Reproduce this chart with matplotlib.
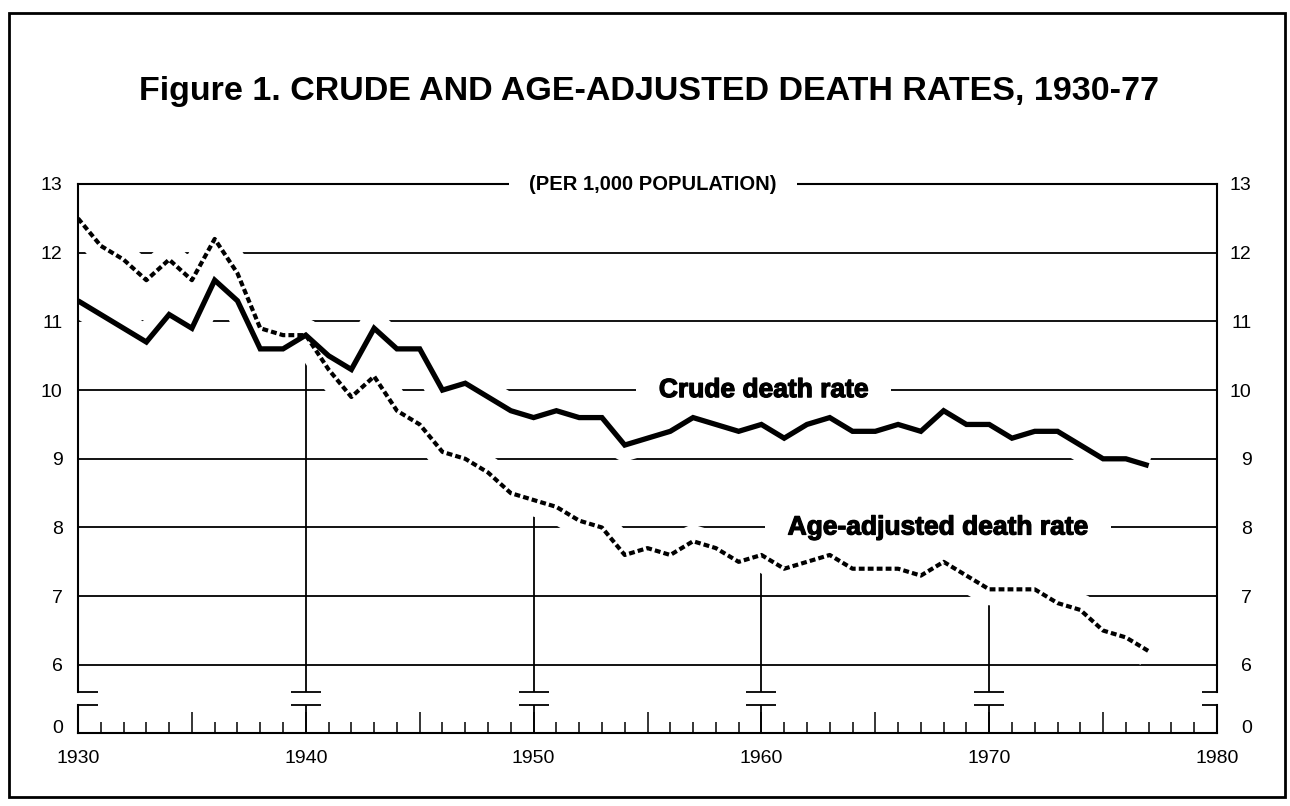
import matplotlib.pyplot as plt
import matplotlib.patheffects as pe
from matplotlib.patches import Rectangle
from matplotlib.ticker import FixedLocator, FuncFormatter

plt.rcParams['font.family'] = ['Liberation Sans', 'DejaVu Sans']

# Data: deaths per 1,000 population, 1930-77
years = list(range(1930, 1978))
crude_rate = [11.3, 11.1, 10.9, 10.7, 11.1, 10.9, 11.6, 11.3, 10.6, 10.6,
              10.8, 10.5, 10.3, 10.9, 10.6, 10.6, 10.0, 10.1, 9.9, 9.7,
              9.6, 9.7, 9.6, 9.6, 9.2, 9.3, 9.4, 9.6, 9.5, 9.4,
              9.5, 9.3, 9.5, 9.6, 9.4, 9.4, 9.5, 9.4, 9.7, 9.5,
              9.5, 9.3, 9.4, 9.4, 9.2, 9.0, 9.0, 8.9]
age_adjusted_rate = [12.5, 12.1, 11.9, 11.6, 11.9, 11.6, 12.2, 11.7, 10.9, 10.8,
                     10.8, 10.3, 9.9, 10.2, 9.7, 9.5, 9.1, 9.0, 8.8, 8.5,
                     8.4, 8.3, 8.1, 8.0, 7.6, 7.7, 7.6, 7.8, 7.7, 7.5,
                     7.6, 7.4, 7.5, 7.6, 7.4, 7.4, 7.4, 7.3, 7.5, 7.3,
                     7.1, 7.1, 7.1, 6.9, 6.8, 6.5, 6.4, 6.2]
y_ticks = [6, 7, 8, 9, 10, 11, 12, 13]
decades = [1940, 1950, 1960, 1970]

W, H = 1290, 806
fig = plt.figure(figsize=(W / 100, H / 100), dpi=100)

# main panel (6-13) and the small strip below the axis break (0)
top_px, bot_px = 184, 692
ymin = 13 - (bot_px - top_px) / 68.7
ax = fig.add_axes([78 / W, 1 - bot_px / H, 1139 / W, (bot_px - top_px) / H])
ax0 = fig.add_axes([78 / W, 1 - 733 / H, 1139 / W, 28 / H])

line_kw = dict(color='black', lw=1.3)

ax.set_xlim(1930, 1980)
ax.set_ylim(ymin, 13)
ax.set_xticks([])
ax.set_yticks(y_ticks)
ax.tick_params(axis='y', length=0, labelsize=14, pad=11)
ax.spines['bottom'].set_visible(False)
for s in ['left', 'right', 'top']:
    ax.spines[s].set_linewidth(1.5)
    ax.spines[s].set_zorder(5)

# right-hand labels
axr = ax.twinx()
axr.set_ylim(ymin, 13)
axr.set_yticks(y_ticks)
axr.tick_params(axis='y', length=0, labelsize=14, pad=25)
for s in axr.spines.values():
    s.set_visible(False)
for lbl in axr.get_yticklabels():
    lbl.set_horizontalalignment('right')

# gridlines
for v in y_ticks[:-1]:
    ax.axhline(v, zorder=1, **line_kw)

# drop lines at decades, up to the curves
for d in decades:
    i = years.index(d)
    ax.vlines(d, ymin, min(crude_rate[i], age_adjusted_rate[i]), zorder=1, **line_kw)
    ax.hlines(ymin, d - 0.66, d + 0.66, clip_on=False, **line_kw)

# break feet
ax.plot([1930, 1930.88], [ymin, ymin], clip_on=False, solid_capstyle='butt', **line_kw)
ax.plot([1979.34, 1980], [ymin, ymin], clip_on=False, solid_capstyle='butt', **line_kw)

# white halo so the grid stops short of the curves
for series in [crude_rate, age_adjusted_rate]:
    ax.plot(years, series, color='white', lw=23, solid_capstyle='butt', zorder=3)
ax.plot(years, crude_rate, color='black', lw=3.8, solid_joinstyle='miter',
        solid_capstyle='butt', zorder=4)
ax.plot(years, age_adjusted_rate, color='black', lw=3.0, linestyle=(0, (1.4, 0.75)),
        dash_capstyle='butt', zorder=4)

# labels
heavy = [pe.withStroke(linewidth=0.9, foreground='black')]
ax.text(0.505, 1.0, '(PER 1,000 POPULATION)', transform=ax.transAxes,
        ha='center', va='center', fontsize=14.5, fontweight='bold', zorder=6,
        bbox=dict(boxstyle='square,pad=1.0', fc='white', ec='none'))
ax.text(1960.1, 10, 'Crude death rate', ha='center', va='center',
        fontsize=19, fontweight='bold', zorder=2, path_effects=heavy,
        bbox=dict(boxstyle='square,pad=0.85', fc='white', ec='none'))
ax.text(1967.75, 8, 'Age-adjusted death rate', ha='center', va='center',
        fontsize=19, fontweight='bold', zorder=2, path_effects=heavy,
        bbox=dict(boxstyle='square,pad=0.85', fc='white', ec='none'))

# lower strip with the year scale
ax0.set_xlim(1930, 1980)
ax0.set_ylim(0, 1)
ax0.spines['top'].set_visible(False)
for s in ['left', 'right', 'bottom']:
    ax0.spines[s].set_linewidth(1.5)
ax0.xaxis.set_major_locator(FixedLocator(list(range(1930, 1981, 5))))
ax0.xaxis.set_minor_locator(FixedLocator(list(range(1930, 1981))))
ax0.xaxis.set_major_formatter(FuncFormatter(lambda v, _: f'{int(v)}' if v % 10 == 0 else ''))
ax0.tick_params(axis='x', which='major', direction='in', length=15, width=1.1,
                labelsize=14, pad=12)
ax0.tick_params(axis='x', which='minor', direction='in', length=8, width=1.1)
ax0.set_yticks([0])
ax0.tick_params(axis='y', length=0, labelsize=14, pad=11)
for lbl in ax0.get_yticklabels():
    lbl.set_verticalalignment('baseline')

ax0r = ax0.twinx()
ax0r.set_ylim(0, 1)
ax0r.set_yticks([0])
ax0r.tick_params(axis='y', length=0, labelsize=14, pad=25)
for s in ax0r.spines.values():
    s.set_visible(False)
for lbl in ax0r.get_yticklabels():
    lbl.set_horizontalalignment('right')
    lbl.set_verticalalignment('baseline')

ax0.vlines(decades, 0, 1, **line_kw)
ax0.hlines([1] * len(decades), [d - 0.66 for d in decades], [d + 0.66 for d in decades],
           clip_on=False, **line_kw)
ax0.plot([1930, 1930.88], [1, 1], clip_on=False, solid_capstyle='butt', **line_kw)
ax0.plot([1979.34, 1980], [1, 1], clip_on=False, solid_capstyle='butt', **line_kw)

fig.text(649 / W, 1 - 100 / H, 'Figure 1. CRUDE AND AGE-ADJUSTED DEATH RATES, 1930-77',
         ha='center', va='baseline', fontsize=24.5, fontweight='bold')

fig.patches.append(Rectangle((9 / W, 1 - 797 / H), 1276 / W, 784 / H,
                             transform=fig.transFigure, fill=False, ec='black', lw=2))

fig.savefig('out.png', dpi=100)
